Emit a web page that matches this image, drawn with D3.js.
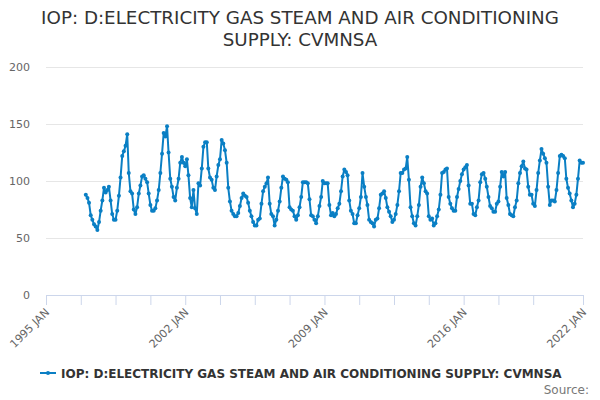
<!DOCTYPE html>
<html>
<head>
<meta charset="utf-8">
<script src="https://cdn.jsdelivr.net/npm/d3@7"></script>
<style>
  body { margin: 0; background: #fff; }
  svg { font-family: "DejaVu Sans", "Lucida Grande", Arial, sans-serif; }
</style>
</head>
<body>
<svg id="chart" width="600" height="400"></svg>
<script>
var titleLines = ["IOP: D:ELECTRICITY GAS STEAM AND AIR CONDITIONING", "SUPPLY: CVMNSA"];
var seriesName = "IOP: D:ELECTRICITY GAS STEAM AND AIR CONDITIONING SUPPLY: CVMNSA";
var firstYear = 1997;

// one row per year, Jan..Dec (last row is Jan 2022 only)
var monthlyValues = [
    88, 85, 81, 70, 66, 62, 60, 57, 64, 74, 83, 94,
    90, 92, 95, 83, 71, 66, 66, 74, 87, 103, 122, 126,
    131, 141, 107, 91, 89, 75, 71, 77, 89, 96, 104, 105,
    102, 99, 89, 79, 74, 74, 76, 83, 92, 107, 124, 142,
    139, 148, 125, 102, 95, 86, 83, 94, 102, 116, 121, 116,
    113, 119, 105, 85, 77, 92, 76, 71, 98, 96, 111, 130,
    134, 134, 111, 103, 101, 94, 92, 104, 114, 119, 136, 133,
    127, 116, 94, 82, 74, 71, 69, 69, 72, 78, 85, 89,
    87, 86, 81, 74, 69, 64, 61, 61, 66, 67, 80, 91,
    95, 98, 103, 80, 71, 69, 61, 66, 74, 82, 94, 104,
    102, 101, 99, 77, 75, 74, 69, 66, 70, 77, 86, 99,
    99, 99, 98, 84, 70, 69, 66, 63, 69, 78, 86, 100,
    98, 98, 98, 79, 70, 72, 69, 71, 76, 80, 91, 104,
    110, 108, 105, 83, 74, 71, 63, 63, 70, 76, 86, 107,
    95, 86, 79, 66, 64, 63, 60, 66, 67, 76, 88, 89,
    91, 85, 77, 73, 69, 64, 66, 71, 79, 91, 107, 107,
    110, 111, 121, 101, 77, 69, 63, 61, 69, 79, 95, 103,
    98, 91, 89, 69, 66, 67, 61, 63, 69, 75, 88, 107,
    108, 110, 111, 86, 80, 76, 74, 74, 86, 93, 100, 106,
    110, 112, 114, 96, 80, 80, 71, 70, 77, 83, 99, 106,
    107, 102, 95, 86, 78, 76, 73, 73, 80, 82, 95, 108,
    104, 108, 85, 79, 71, 70, 69, 77, 83, 98, 107, 113,
    117, 111, 110, 95, 88, 88, 80, 78, 92, 107, 118, 128,
    124, 120, 116, 95, 79, 83, 83, 82, 92, 107, 122, 123,
    122, 120, 102, 94, 89, 83, 77, 80, 88, 102, 118, 116,
    116
];

var yTicks = [0, 50, 100, 150, 200];
// x ticks every 21 months from 1995 JAN, labelled every 7 years
var xTickMonths = [0, 21, 42, 63, 84, 105, 126, 147, 168, 189, 210, 231, 252, 273, 294, 324];
var xLabelMonths = [0, 84, 168, 252, 324];
var monthNames = ["JAN", "FEB", "MAR", "APR", "MAY", "JUN", "JUL", "AUG", "SEP", "OCT", "NOV", "DEC"];

var svg = d3.select("#chart"),
    margin = {top: 67, right: 17, bottom: 105, left: 46},
    width = svg.attr("width") - margin.left - margin.right,
    height = svg.attr("height") - margin.top - margin.bottom;

var data = monthlyValues.map(function(v, i) {
    return {date: new Date(firstYear, i, 1), value: v};
});

function monthDate(m) { return new Date(1995, m, 1); }

var x = d3.scaleTime()
    .domain([new Date(1995, 0, 1), new Date(2022, 0, 1)])
    .range([0, width]);

var y = d3.scaleLinear()
    .domain([0, 200])
    .range([height, 0]);

// title
svg.append("g").selectAll("text")
    .data(titleLines)
    .enter().append("text")
    .attr("x", 300)
    .attr("y", function(d, i) { return 24 + i * 22; })
    .attr("text-anchor", "middle")
    .style("font-size", "18.3px")
    .style("fill", "#333")
    .text(function(d) { return d; });

var g = svg.append("g")
    .attr("transform", "translate(" + margin.left + "," + margin.top + ")");

// grid
g.append("g")
    .attr("class", "grid")
    .call(d3.axisLeft(y).tickValues(yTicks).tickSize(-width).tickFormat(""))
    .call(function(s) {
        s.select(".domain").remove();
        s.selectAll("line").attr("stroke", "#e6e6e6");
    });

// y labels
g.append("g")
    .selectAll("text")
    .data(yTicks)
    .enter().append("text")
    .attr("x", -16)
    .attr("y", function(d) { return y(d); })
    .attr("dy", "0.35em")
    .attr("text-anchor", "end")
    .style("font-size", "11px")
    .style("fill", "#666")
    .text(function(d) { return d; });

// x axis
var xAxis = g.append("g")
    .attr("class", "axis axis--x")
    .attr("transform", "translate(0," + height + ")")
    .call(d3.axisBottom(x)
        .tickValues(xTickMonths.map(monthDate))
        .tickSize(10)
        .tickSizeOuter(0)
        .tickFormat(""));

xAxis.select(".domain").attr("stroke", "#ccd6eb");
xAxis.selectAll("line").attr("stroke", "#ccd6eb");

g.append("g")
    .attr("transform", "translate(0," + height + ")")
    .selectAll("text")
    .data(xLabelMonths)
    .enter().append("text")
    .attr("transform", function(m) {
        return "translate(" + (x(monthDate(m)) + 4) + ",18) rotate(-45)";
    })
    .attr("text-anchor", "end")
    .style("font-size", "11px")
    .style("fill", "#666")
    .text(function(m) { return (1995 + Math.floor(m / 12)) + " " + monthNames[m % 12]; });

// series
var line = d3.line()
    .x(function(d) { return x(d.date); })
    .y(function(d) { return y(d.value); });

g.append("path")
    .datum(data)
    .attr("fill", "none")
    .attr("stroke", "#0a7fc4")
    .attr("stroke-width", 2)
    .attr("stroke-linejoin", "round")
    .attr("d", line);

g.append("g")
    .selectAll("circle")
    .data(data)
    .enter().append("circle")
    .attr("cx", function(d) { return x(d.date); })
    .attr("cy", function(d) { return y(d.value); })
    .attr("r", 2)
    .attr("fill", "#0a7fc4");

// legend
var legend = svg.append("g")
    .attr("transform", "translate(40,373)");

legend.append("line")
    .attr("x1", 0).attr("x2", 16)
    .attr("y1", 0).attr("y2", 0)
    .attr("stroke", "#0a7fc4")
    .attr("stroke-width", 2);

legend.append("circle")
    .attr("cx", 8).attr("cy", 0).attr("r", 2)
    .attr("fill", "#0a7fc4");

legend.append("text")
    .attr("x", 21)
    .attr("y", 5)
    .style("font-size", "12px")
    .style("font-weight", "bold")
    .style("fill", "#333")
    .text(seriesName);

svg.append("text")
    .attr("x", 589)
    .attr("y", 394)
    .attr("text-anchor", "end")
    .style("font-size", "12px")
    .style("fill", "#777")
    .text("Source:");
</script>
</body>
</html>
